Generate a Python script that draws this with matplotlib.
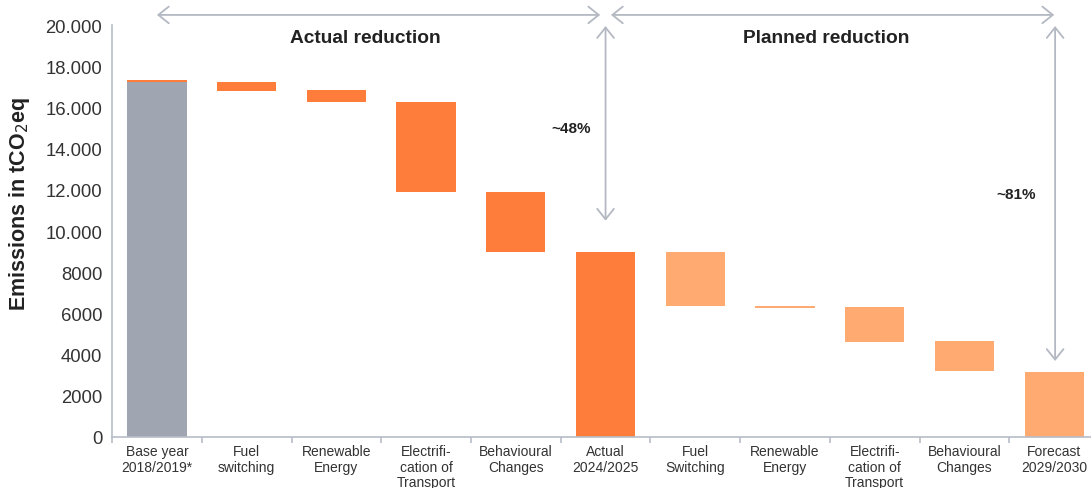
import matplotlib
matplotlib.use("Agg")
import matplotlib.pyplot as plt
from matplotlib.patches import FancyArrowPatch

plt.rcParams["font.family"] = ["Liberation Sans", "DejaVu Sans"]

# Waterfall: each bar floats from bar_low to bar_high (tCO2eq)
categories = [
    "Base year\n2018/2019*", "Fuel\nswitching", "Renewable\nEnergy",
    "Electrifi-\ncation of\nTransport", "Behavioural\nChanges", "Actual\n2024/2025",
    "Fuel\nSwitching", "Renewable\nEnergy", "Electrifi-\ncation of\nTransport",
    "Behavioural\nChanges", "Forecast\n2029/2030",
]
bar_low = [0, 16800, 16260, 11890, 9000, 0, 6360, 6260, 4610, 3200, 0]
bar_high = [17250, 17220, 16850, 16260, 11890, 9000, 9000, 6360, 6310, 4660, 3160]
bar_kind = ["base", "actual", "actual", "actual", "actual", "actual",
            "planned", "planned", "planned", "planned", "planned"]
base_strip = (17250, 17310)  # small orange cap on top of the base year

yticks = [0, 2000, 4000, 6000, 8000, 10000, 12000, 14000, 16000, 18000, 20000]
ytick_labels = ["0", "2000", "4000", "6000", "8000", "10.000", "12.000",
                "14.000", "16.000", "18.000", "20.000"]

colors = {"base": "#A0A6B1", "actual": "#FF7D3A", "planned": "#FFAA70"}
axis_grey = "#B8BCC6"
arrow_grey = "#B3B8C2"
text_dark = "#222222"

fig = plt.figure(figsize=(10.91, 4.89), dpi=100)
ax = fig.add_axes([0.1027, 0.1043, 0.9047, 0.8425])

x = list(range(len(categories)))
heights = [h - l for l, h in zip(bar_low, bar_high)]
ax.bar(x, heights, bottom=bar_low, width=0.66,
       color=[colors[k] for k in bar_kind], linewidth=0)
ax.bar(0, base_strip[1] - base_strip[0], bottom=base_strip[0], width=0.66,
       color=colors["actual"], linewidth=0)

ax.set_xlim(-0.5, len(categories) - 0.5)
ax.set_ylim(0, 20000)

for side in ["top", "right"]:
    ax.spines[side].set_visible(False)
for side in ["left", "bottom"]:
    ax.spines[side].set_color(axis_grey)
    ax.spines[side].set_linewidth(1.2)

ax.set_yticks(yticks)
ax.set_yticklabels(ytick_labels)
ax.tick_params(axis="y", length=0, pad=7, labelsize=13.3, labelcolor="#333333")

ax.set_xticks(x)
ax.set_xticklabels(categories, fontsize=10, color="#333333", linespacing=1.15)
ax.set_xticks([i - 0.5 for i in range(len(categories) + 1)], minor=True)
ax.tick_params(axis="x", which="major", length=0, pad=5)
ax.tick_params(axis="x", which="minor", length=4, width=1.2, color=axis_grey)

ax.set_ylabel("Emissions in tCO$_2$eq", fontsize=15.5, fontweight="bold",
              color=text_dark)
ax.yaxis.set_label_coords(-0.081, 0.569)


def arrow(x0, y0, x1, y1):
    a = FancyArrowPatch((x0, y0), (x1, y1),
                        arrowstyle="<->,head_length=0.75,head_width=0.6",
                        mutation_scale=10, color=arrow_grey, lw=1.3,
                        clip_on=False, shrinkA=0, shrinkB=0)
    ax.add_patch(a)


# spans over the two phases
arrow(0.0, 20490, 4.94, 20490)
arrow(5.06, 20490, 10.0, 20490)
arrow(5.0, 19950, 5.0, 10500)
arrow(10.01, 19950, 10.01, 3690)

ax.text(2.32, 19400, "Actual reduction", ha="center", va="center",
        fontsize=13.8, fontweight="bold", color=text_dark)
ax.text(7.46, 19400, "Planned reduction", ha="center", va="center",
        fontsize=13.8, fontweight="bold", color=text_dark)
ax.text(4.62, 14980, "~48%", ha="center", va="center",
        fontsize=11, fontweight="bold", color=text_dark)
ax.text(9.58, 11820, "~81%", ha="center", va="center",
        fontsize=11, fontweight="bold", color=text_dark)

fig.savefig("out.png", dpi=100)
